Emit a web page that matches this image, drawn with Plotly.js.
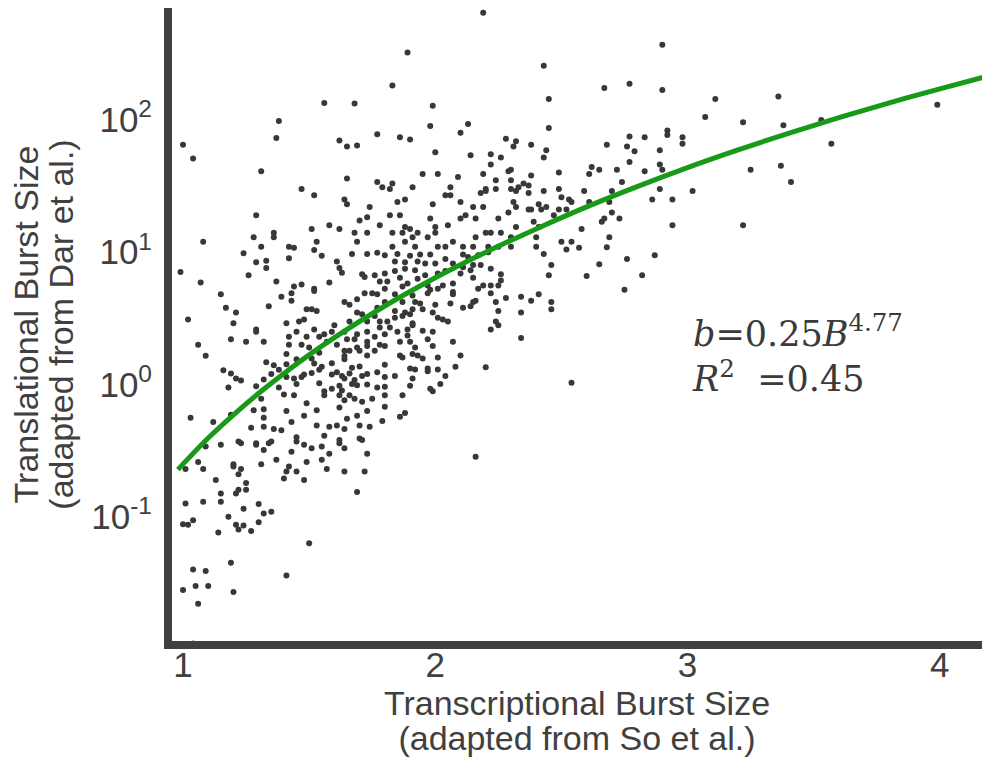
<!DOCTYPE html>
<html><head><meta charset="utf-8">
<script src="https://cdn.plot.ly/plotly-3.0.1.min.js"></script>
<style>html,body{margin:0;padding:0;background:#fff;} #chart{width:982px;height:765px;}</style>
</head><body><div id="chart"></div>
<script>
// Transcriptional burst size (x) for each gene
const transcriptionalBurst = [
1.56,1.68,1.38,1.37,1.00,1.04,1.62,1.65,1.69,1.31,
1.65,1.47,1.52,1.64,1.65,1.74,1.29,1.70,1.73,
2.19,1.89,2.43,1.83,2.45,1.99,1.98,2.13,2.10,2.45,
1.77,1.86,1.90,2.28,2.32,2.31,2.38,2.00,2.14,2.22,
2.26,2.44,2.43,2.22,2.30,2.29,1.95,2.01,2.09,2.19,
2.38,2.49,1.77,1.83,1.79,1.82,1.91,2.06,2.24,2.30,
2.35,2.37,2.33,2.30,2.20,2.18,2.20,2.24,2.32,2.43,
2.49,2.37,2.04,2.06,1.85,1.88,1.99,2.10,2.31,2.50,
2.53,2.54,1.82,1.86,1.98,2.15,2.19,2.32,2.37,2.38,
2.41,2.42,2.44,2.49,2.52,2.47,2.29,2.10,2.12,2.16,
2.25,2.39,
2.90,2.67,2.77,2.90,3.11,3.36,3.07,3.22,2.92,2.92,
2.77,2.83,2.98,2.98,2.68,2.76,2.79,2.89,2.77,2.89,
2.90,2.62,2.61,2.65,2.72,2.83,3.25,3.37,2.74,2.59,
2.70,2.89,3.02,2.86,2.94,2.61,2.69,2.70,2.67,2.66,
2.73,
3.99,3.53,3.38,3.57,3.41,2.58,2.94,3.22,2.69,2.57,
2.68,2.76,2.87,2.65,2.60,2.82,2.75,2.54,2.16,
1.09,1.15,1.22,1.23,1.29,1.29,1.34,1.35,1.32,1.45,
1.45,1.48,1.51,1.43,1.56,1.55,1.58,1.62,1.62,1.64,
1.70,1.71,1.73,1.06,1.01,1.08,1.20,1.20,1.23,1.31,
1.37,1.42,1.41,1.40,1.45,1.49,1.48,1.55,1.57,1.64,
1.72,1.13,1.22,1.25,1.25,1.22,1.21,1.15,1.15,1.08,
1.01,1.24,1.30,1.32,1.35,1.18,1.30,1.21,1.24,1.22,
1.27,1.14,1.00,1.02,1.04,1.69,1.50,1.19,1.04,1.09,
1.41,1.00,1.05,1.10,1.20,1.06,1.04,
1.51,1.58,1.62,1.08,1.28,1.36,1.36,1.24,1.31,1.42,
1.44,1.53,1.52,1.55,1.42,1.33,1.33,1.29,1.26,1.68,
1.69,1.73,1.67,1.73,1.61,1.62,1.63,1.71,1.72,0.99,
1.07,1.37,1.44,1.47,1.52,1.52,1.58,1.15,1.39,1.43,
1.43,1.72,1.75,1.34,1.17,1.21,1.49,1.51,1.53,1.64,
1.66,1.69,1.69,1.71,1.02,1.20,1.41,1.46,1.48,1.60,
1.66,1.73,1.29,1.29,1.45,1.52,1.56,1.59,1.64,1.69,
1.73,1.19,1.25,1.32,1.42,1.49,1.54,1.65,1.68,1.73,
1.06,1.09,1.42,1.47,1.50,1.57,1.61,1.64,1.66,1.69,
1.70,1.73,1.41,1.45,1.51,1.54,1.64,1.73,1.33,1.36,
1.41,1.52,1.55,1.59,1.64,1.67,1.70,1.16,1.19,1.35,
1.38,1.41,1.44,1.47,1.48,1.51,1.54,1.59,1.61,1.63,
1.64,1.66,1.68,1.71,1.73,1.21,1.23,1.32,1.18,1.29,
1.38,1.45,1.54,1.56,1.59,1.62,1.63,1.67,1.69,1.73,
1.31,1.40,1.44,1.49,1.56,1.62,1.64,1.66,1.68,1.71,
1.03,1.12,1.19,1.28,1.32,1.32,1.41,1.43,1.48,1.53,
1.62,1.65,1.69,1.73,1.27,1.32,1.36,1.39,1.53,1.58,
1.61,1.64,1.70,1.74,
1.78,1.88,1.90,2.00,2.05,2.32,2.41,1.83,1.87,1.93,
1.97,1.91,2.00,2.16,2.20,2.22,2.26,2.30,2.40,2.50,
2.54,2.52,1.83,1.88,1.92,2.01,2.04,2.07,2.11,2.15,
2.21,2.25,2.30,2.40,1.77,1.80,1.85,1.90,1.94,1.98,
2.04,2.11,2.13,2.17,2.21,2.43,1.84,1.88,1.93,1.96,
2.00,2.07,2.11,2.15,2.18,2.22,2.46,1.76,1.80,1.84,
1.88,1.92,1.96,2.01,2.04,2.10,2.14,2.26,2.45,1.78,
1.81,1.86,1.89,1.93,1.97,2.03,2.07,2.15,2.26,1.80,
1.87,1.98,2.01,2.07,2.17,2.19,2.22,2.25,1.77,1.84,
1.91,1.97,2.07,2.22,2.28,2.34,2.41,1.80,1.87,1.92,
1.94,2.00,2.06,2.15,2.16,2.24,2.38,2.46,1.77,1.84,
1.88,1.91,1.95,1.99,2.11,2.14,2.25,2.34,2.46,1.76,
1.84,1.87,1.90,2.01,2.03,2.05,1.78,1.81,1.91,2.24,
2.25,1.78,1.82,1.89,1.91,1.95,1.99,2.22,1.76,1.80,
1.85,1.89,1.97,2.07,2.34,1.78,1.80,1.86,1.90,1.92,
1.99,1.76,1.86,1.87,1.91,1.93,1.95,2.01,2.10,1.80,
1.90,1.92,1.97,2.01,2.08,2.20,1.77,1.84,1.80,1.91,
1.97,2.04,2.02,1.77,1.80,1.90,1.98,1.99,1.80,1.87,
1.75,1.80,1.88,1.86,1.79
];
// Translational burst size (y) for each gene
const translationalBurst = [
134,133,98,73,65,51,70,63,64,41,
36,30,27,25,23,22,19,17.4,18.4,
646,324,257,182,144,128,90,93,80,87,
78,74,71,72,69,63,65,57,54,55,
52,59,52,46,42,41,39,39,37,39,
38,40,34,33,31,30,31,31,35,35,
33,32,31,30,30,28,29,30,29,29,
30,28,27,27,24,25,23,24,24,26,
25,24,19,19,18,22,22,22,21,21,
23,21,22,21,21,19,20,18,19,18,
18,17,
370,174,188,168,144,150,105,96,83,77,
75,74,74,66,65,63,58,59,48,46,
42,44,39,42,42,41,42,45,34,29,
29,30,29,25,25,24,24,20,18,17,
18,
130,100,91,66,34,15,16,16,13,10.8,
10.9,8.9,9.5,8.1,6.6,6.7,5.2,1.03,0.284,
0.34,0.35,0.37,0.36,0.36,0.35,0.36,0.37,0.32,0.40,
0.37,0.35,0.33,0.31,0.41,0.34,0.30,0.38,0.36,0.33,
0.39,0.38,0.30,0.26,0.23,0.23,0.25,0.24,0.23,0.25,
0.27,0.24,0.22,0.195,0.22,0.26,0.19,0.27,0.23,0.22,
0.22,0.19,0.21,0.18,0.16,0.16,0.15,0.15,0.13,0.13,
0.126,0.115,0.125,0.106,0.109,0.100,0.091,0.087,0.086,0.080,
0.078,0.076,0.088,0.087,0.094,0.154,0.063,0.045,0.040,0.039,
0.036,0.028,0.030,0.030,0.027,0.022,0.011,
15,16,15,12,13,14,13,9.8,11,11,
10.8,12,10.4,9.4,9.0,8.6,7.6,8.4,6.7,14,
12,14,9.7,9.7,8.5,7.6,7.0,6.8,6.5,7.1,
5.9,6.0,5.5,5.7,5.3,5.1,5.9,4.8,4.6,4.9,
4.3,4.9,4.9,3.9,3.8,3.5,3.7,3.7,3.6,4.2,
4.0,4.4,3.5,3.4,3.1,2.9,2.9,3.0,3.1,2.8,
3.0,3.0,2.6,2.5,2.5,2.6,2.4,2.5,2.5,2.4,
2.5,2.2,2.1,2.1,2.3,2.3,2.3,2.2,2.2,2.1,
2.0,1.65,2.0,2.0,1.9,2.1,2.0,1.8,1.8,1.9,
1.8,1.95,1.7,1.55,1.57,1.74,1.64,1.66,1.47,1.40,
1.42,1.44,1.36,1.45,1.55,1.34,1.37,1.28,1.21,1.20,
1.29,1.14,1.11,1.14,1.19,1.22,1.29,1.19,1.24,1.16,
1.11,1.21,1.08,1.16,1.20,1.11,1.07,1.09,0.95,0.97,
0.95,1.01,1.02,0.89,0.93,0.98,0.90,1.01,0.985,1.0,
0.78,0.84,0.83,0.72,0.83,0.83,0.76,0.83,0.78,0.74,
0.56,0.52,0.59,0.64,0.65,0.56,0.63,0.52,0.58,0.64,
0.67,0.55,0.58,0.63,0.47,0.48,0.46,0.45,0.49,0.48,
0.49,0.46,0.49,0.48,
16,15.5,15,15.5,16,15.5,15.5,14,14,14,
13,13,14,13,14,14,14,13,13,12,
12,10.5,11,12,11,11,11,12,11,11,
11,11,11,11,9.9,9.5,9.7,9.4,9.6,9.6,
8.9,9.6,9.2,9.5,10,9.7,8.5,8.4,8.5,8.2,
8.2,8.2,7.7,8.0,8.0,7.5,8.0,6.7,6.9,7.2,
7.5,7.3,6.7,6.9,7.2,6.9,7.3,6.8,6.7,6.0,
6.0,6.4,5.8,6.3,5.6,5.6,5.8,6.4,6.1,5.3,
5.5,5.2,5.3,5.0,5.3,5.6,5.6,5.6,4.8,4.8,
4.7,4.9,4.8,4.9,4.5,4.6,4.8,4.2,4.2,4.2,
4.1,4.0,4.1,4.2,4.3,4.2,4.3,4.2,3.8,3.6,
3.5,3.7,3.7,3.5,3.8,3.9,3.6,3.5,3.7,3.3,
3.2,3.3,3.4,3.2,3.1,3.0,3.0,3.0,2.9,3.0,
2.8,2.7,2.7,2.6,2.8,2.55,2.5,2.6,2.3,2.4,
2.5,2.35,2.2,2.1,2.25,2.0,1.95,2.1,2.1,1.9,
1.95,1.8,1.66,1.6,1.7,1.66,1.57,1.6,1.66,1.41,
1.32,1.30,1.32,1.30,1.36,1.35,1.24,1.16,1.14,1.11,
1.26,1.16,1.01,0.95,0.96,0.98,0.93,0.89,0.83,0.83,
0.78,0.68,0.61,0.57,0.53
];
// Fitted curve (b = 0.25 B^4.77) as drawn in the figure, sampled
const fitB = [0.98,1.0,1.1,1.2,1.3,1.4,1.5,1.6,1.8,2.0,2.2,2.4,2.6,2.8,3.0,3.2,3.4,3.6,3.8,4.0,4.17];
const fitb = [0.227,0.25,0.394,0.590,0.858,1.213,1.674,2.26,3.92,6.41,10.0,15.0,22.0,31.3,43.6,59.3,79.1,103.9,134.6,171.8,209.5];
const xTickVals = [1,2,3,4];
const xTickText = ['1','2','3','4'];
const yTickVals = [0.1,1,10,100];
const yTickText = ['10<sup>-1</sup>','10<sup>0</sup>','10<sup>1</sup>','10<sup>2</sup>'];

if (transcriptionalBurst.length !== translationalBurst.length) {
  throw new Error('length mismatch ' + transcriptionalBurst.length + ' vs ' + translationalBurst.length);
}

const axisColor = '#404040';
const sans = '"Liberation Sans", Arial, sans-serif';
const big = s => '<span style="font-size:34px">' + s + '</span>';
const traces = [
  {type:'scatter', mode:'markers', x:transcriptionalBurst, y:translationalBurst,
   marker:{size:6, color:'#383838'}, hoverinfo:'skip'},
  {type:'scatter', mode:'lines', x:fitB, y:fitb, line:{color:'#179a17', width:5, shape:'spline'}, hoverinfo:'skip'}
];
const layout = {
  width:982, height:765,
  margin:{l:172, r:0, t:8, b:124, pad:0},
  paper_bgcolor:'#ffffff', plot_bgcolor:'#ffffff',
  showlegend:false,
  font:{family:sans, color:axisColor, size:33},
  xaxis:{range:[0.9564,4.1672], tickvals:xTickVals, ticktext:xTickText, showgrid:false, zeroline:false,
         showline:true, linecolor:axisColor, linewidth:8, ticks:'', automargin:false, ticklabelstandoff:-14,
         tickfont:{family:sans, size:35, color:axisColor},
         title:{text:big('Transcriptional Burst Size') + '<br>' + big('(adapted from So et al.)'), font:{family:sans, size:27, color:axisColor}, standoff:16}},
  yaxis:{type:'log', range:[-1.939,2.846], tickvals:yTickVals, ticktext:yTickText, showgrid:false, zeroline:false,
         showline:true, linecolor:axisColor, linewidth:8, ticks:'', automargin:false, ticklabelstandoff:5,
         tickfont:{family:sans, size:35, color:axisColor},
         title:{text:big('Translational Burst Size') + '<br>' + big('(adapted from Dar et al.)'), font:{family:sans, size:27, color:axisColor}, standoff:13}},
  annotations:[{xref:'paper', yref:'paper', x:0.6395, y:0.4534, xanchor:'left', yanchor:'middle', align:'left',
    showarrow:false, text:'<i>b</i>=0.25<i>B</i><sup>4.77</sup><br><i>R</i><sup>2</sup>&nbsp;&nbsp;=0.45',
    font:{family:'"DejaVu Serif", serif', size:35, color:'#3a3a3a'}}]
};
Plotly.newPlot('chart', traces, layout, {staticPlot:true, displayModeBar:false});
</script></body></html>
